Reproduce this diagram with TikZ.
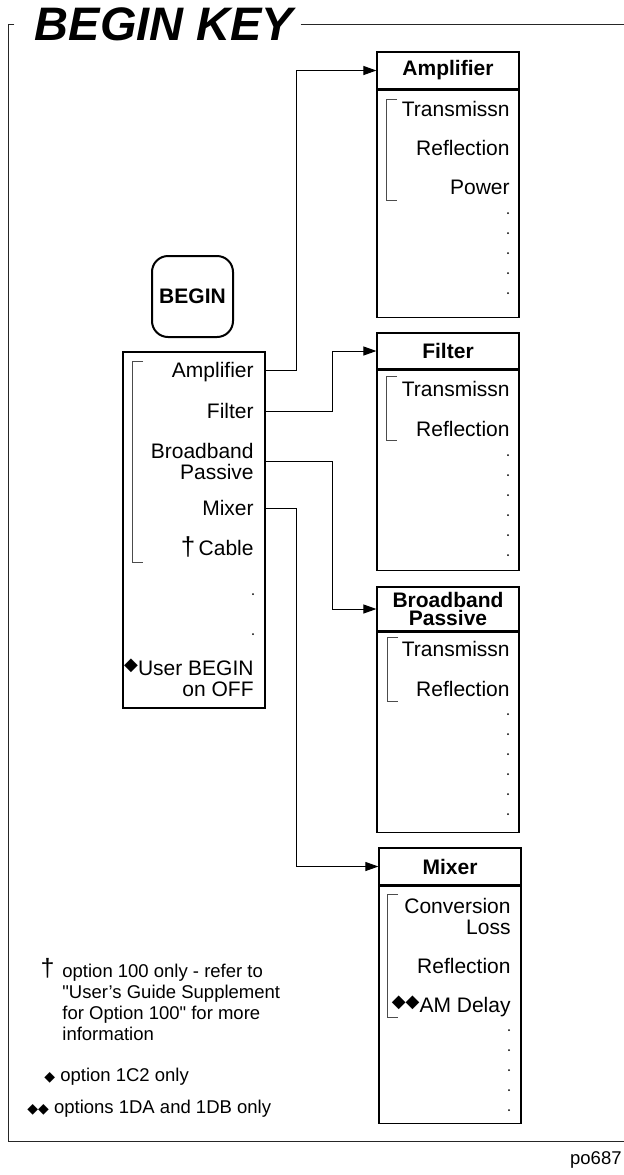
\documentclass[tikz,border=0pt]{standalone}
\usepackage{fontspec}
\setmainfont{Liberation Sans}
\newfontfamily\symfont{DejaVu Sans}
\usetikzlibrary{
  arrows.meta, % Triangle arrow tips
  positioning  % body boxes below their heads
}
\newcommand{\itemfont}{\fontsize{10.5pt}{10.5pt}\selectfont}
\newcommand{\notefont}{\fontsize{9.25pt}{10.5pt}\selectfont}
\newcommand{\dmd}[1][9pt]{{\symfont\fontsize{#1}{#1}\selectfont ◆}}
\tikzset{
  frame/.style={line width=0.5pt, black!85},
  head/.style={draw, line width=0.6pt, minimum width=71pt, inner sep=0pt, font=\itemfont\bfseries, align=center},
  body/.style={draw, line width=0.6pt, minimum width=71pt, inner sep=0pt},
  item/.style={font=\itemfont, anchor=east, inner sep=0pt, text height=7.5pt, text depth=0pt},
  item2/.style={font=\itemfont, anchor=north east, inner sep=0pt, align=right},
  link/.style={line width=0.5pt, -{Triangle[length=6.5pt,width=4.5pt]}},
  bracket/.style={line width=0.4pt, black!70},
  note/.style={font=\notefont, inner sep=0pt, align=left}
}

\begin{document}
\begin{tikzpicture}[x=0.5pt, y=-0.5pt]
  \useasboundingbox (0,0) rectangle (624,1175);

  % title and frame
  \node[font=\fontsize{23.5pt}{23.5pt}\selectfont\bfseries\itshape, inner sep=0pt,
        text height=16.8pt, text depth=0pt] (title) at (164,24) {BEGIN KEY};
  \draw[frame] ([xshift=-10pt]title.west) -| (8,1141) -- (624,1141);
  \draw[frame] ([xshift=3.5pt]title.east) -- (624,24);
  \node[font=\notefont, anchor=east, inner sep=0pt] (code) at (622,1160) {po687};

  % BEGIN key and its menu
  \node[draw, line width=1pt, rounded corners=8pt, minimum width=40.5pt, minimum height=40.5pt,
        font=\itemfont\bfseries] (beginKey) at (192.5,296.5) {BEGIN};
  \node[body, minimum height=178pt] (menu) at (194,530) {};
  \node[item] (mAmp) at (254,370) {Amplifier};
  \node[item] (mFil) at (254,411) {Filter};
  \node[item2] (mBB) at (254,442.5) {Broadband\\Passive};
  \node[item] (mMix) at (254,508) {Mixer};
  \node[item] (mCab) at (254,548) {{\fontsize{13pt}{13pt}\selectfont †}\,Cable};
  \node[item2] (mUsr) at (254,660.5) {\smash{\raisebox{2.5pt}{\dmd}}User BEGIN\\on OFF};
  \foreach \y in {594,634}
    \fill (253,\y) circle (0.5pt);
  \draw[bracket] (143,361) -- (132,361) -- (132,562) -- (143,562);

  % Amplifier
  \node[head, minimum height=18.5pt] (hAmp) at (448,70.5) {Amplifier};
  \node[body, below=0pt of hAmp, minimum height=113.5pt] (bAmp) {};
  \node[item] (aTrans) at (510,109) {Transmissn};
  \node[item] (aRefl) at (510,148) {Reflection};
  \node[item] (aPow) at (510,187) {Power};
  \draw[bracket] (397,99) -- (386,99) -- (386,200) -- (397,200);
  \foreach \y in {213,233,...,293}
    \fill (508,\y) circle (0.5pt);

  % Filter
  \node[head, minimum height=18pt] (hFil) at (448,351) {Filter};
  \node[body, below=0pt of hFil, minimum height=100pt] (bFil) {};
  \node[item] (fTrans) at (510,389) {Transmissn};
  \node[item] (fRefl) at (510,429) {Reflection};
  \draw[bracket] (397,376) -- (386,376) -- (386,440) -- (397,440);
  \foreach \y in {455,475,...,555}
    \fill (508,\y) circle (0.5pt);

  % Broadband Passive
  \node[head, minimum height=22pt, font=\fontsize{10.5pt}{9pt}\selectfont\bfseries] (hBB) at (448,609) {Broadband\\Passive};
  \node[body, below=0pt of hBB, minimum height=100pt] (bBB) {};
  \node[item] (bTrans) at (510,649) {Transmissn};
  \node[item] (bRefl) at (510,689) {Reflection};
  \draw[bracket] (398,637) -- (387,637) -- (387,701) -- (398,701);
  \foreach \y in {714,734,...,814}
    \fill (508,\y) circle (0.5pt);

  % Mixer
  \node[head, minimum height=18.5pt] (hMix) at (450,866.5) {Mixer};
  \node[body, below=0pt of hMix, minimum height=118.5pt] (bMix) {};
  \node[item2] (xConv) at (511,897.5) {Conversion\\Loss};
  \node[item] (xRefl) at (511,966) {Reflection};
  \node[item] (xDelay) at (511,1005) {\raisebox{2.5pt}{\dmd\dmd}AM Delay};
  \draw[bracket] (398,894) -- (387,894) -- (387,1017) -- (398,1017);
  \foreach \y in {1030,1050,...,1110}
    \fill (509,\y) circle (0.5pt);

  % connectors
  \coordinate (jA) at (296,0);
  \coordinate (jF) at (332,0);
  \draw[link] (menu.east |- mAmp) -| (jA |- hAmp) -- (hAmp);
  \draw[link] (menu.east |- mFil) -| (jF |- hFil) -- (hFil);
  \draw[link] (menu.east |- mBB) -| (jF |- hBB) -- (hBB);
  \draw[link] (menu.east |- mMix) -| (jA |- hMix) -- (hMix);

  % footnotes
  \node[note, anchor=north west] (fnOpt) at (62,963.4) {option 100 only - refer to\\\textquotedbl User's Guide Supplement\\for Option 100\textquotedbl{} for more\\information};
  \node[font=\fontsize{12.5pt}{12.5pt}\selectfont, inner sep=0pt, anchor=north east]
    (fnDag) at ([xshift=-3.5pt, yshift=2.5pt]fnOpt.north west) {†};
  \node[note, anchor=west, text height=6.6pt, text depth=0pt] (fnOne) at (44,1075) {\dmd[7pt]\ option 1C2 only};
  \node[note, anchor=west, text height=6.6pt, text depth=0pt] (fnTwo) at (27,1107) {\dmd[7pt]\dmd[7pt]\ options 1DA and 1DB only};
\end{tikzpicture}
\end{document}
